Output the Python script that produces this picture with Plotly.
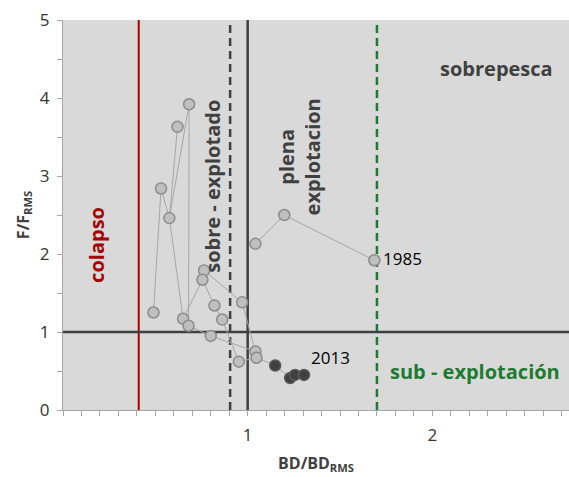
import plotly.graph_objects as go

# Data (BD/BD_RMS, F/F_RMS); None separates drawn path pieces
path_bd = [1.686, 1.198, 1.042, None,
           0.49, 0.531, 0.576, 0.62, None,
           0.683, 0.576, 0.65, 0.755, 0.82, 0.862, 0.952, 1.048, 1.149, 1.23, 1.256, 1.305, None,
           0.683, 0.68, 0.80, 1.042, 0.97, 0.764, 0.755]
path_f = [1.92, 2.50, 2.13, None,
          1.25, 2.84, 2.46, 3.63, None,
          3.92, 2.46, 1.17, 1.67, 1.34, 1.16, 0.62, 0.67, 0.57, 0.41, 0.45, 0.45, None,
          3.92, 1.08, 0.95, 0.75, 1.38, 1.79, 1.67]

pts_bd = [1.686, 1.198, 1.042, 0.49, 0.531, 0.576, 0.62, 0.683, 0.65, 0.68, 0.764, 0.755,
          0.82, 0.862, 0.80, 0.97, 1.042, 1.048, 0.952]
pts_f = [1.92, 2.50, 2.13, 1.25, 2.84, 2.46, 3.63, 3.92, 1.17, 1.08, 1.79, 1.67,
         1.34, 1.16, 0.95, 1.38, 0.75, 0.67, 0.62]

recent_bd = [1.149, 1.23, 1.256, 1.305]
recent_f = [0.57, 0.41, 0.45, 0.45]

ref_colapso = 0.41
ref_sobre = 0.905
ref_rms = 1.0
ref_sub = 1.70
ref_f = 1.0

xticks = [1, 2]
yticks = [0, 1, 2, 3, 4, 5]

FONT = "Open Sans"
DARK = "#404040"

fig = go.Figure()
fig.add_trace(go.Scatter(x=path_bd, y=path_f, mode="lines",
                         line=dict(color="#a6a6a6", width=1), hoverinfo="skip",
                         showlegend=False, connectgaps=False))
fig.add_trace(go.Scatter(x=pts_bd, y=pts_f, mode="markers",
                         marker=dict(size=11, color="#bfbfbf", line=dict(color="#8c8c8c", width=1.5)),
                         showlegend=False))
fig.add_trace(go.Scatter(x=recent_bd, y=recent_f, mode="markers",
                         marker=dict(size=11, color="#404040", line=dict(color="#595959", width=1.5)),
                         showlegend=False))

fig.add_vline(x=ref_colapso, line=dict(color="#a50000", width=2), layer="below")
fig.add_vline(x=ref_sobre, line=dict(color=DARK, width=2.5, dash="8px,5px"), layer="below")
fig.add_vline(x=ref_rms, line=dict(color=DARK, width=2.5), layer="below")
fig.add_vline(x=ref_sub, line=dict(color="#1e7a32", width=2.5, dash="8px,5px"), layer="below")
fig.add_hline(y=ref_f, line=dict(color=DARK, width=2.5), layer="below")

def lab(text, x, y, color, size=20, angle=0, bold=True, xanchor="center"):
    t = f"<b>{text}</b>" if bold else text
    fig.add_annotation(x=x, y=y, text=t, showarrow=False, textangle=angle,
                       font=dict(family=FONT, size=size, color=color), xanchor=xanchor)

lab("colapso", 0.18, 2.12, "#a50000", angle=-90)
lab("sobre - explotado", 0.81, 2.87, DARK, angle=-90)
lab("plena<br>explotacion", 1.283, 3.25, DARK, angle=-90)
lab("sobrepesca", 2.35, 4.38, DARK)
lab("sub - explotación", 2.23, 0.5, "#1e7a32")
lab("1985", 1.722, 1.94, "#000000", size=17, bold=False, xanchor="left")
lab("2013", 1.33, 0.67, "#000000", size=17, bold=False, xanchor="left")

fig.update_layout(
    width=569, height=477,
    margin=dict(l=63, r=0, t=20, b=67, autoexpand=False),
    paper_bgcolor="white", plot_bgcolor="#d9d9d9",
    font=dict(family=FONT, size=16, color="#333333"),
    xaxis=dict(range=[0, 2.74], tickvals=xticks, ticks="outside", ticklen=5,
               tickcolor="#a6a6a6", showline=True, linecolor="#a6a6a6", linewidth=1,
               showgrid=False, zeroline=False, automargin=False,
               tickfont=dict(size=17), ticklabelstandoff=5,
               minor=dict(tick0=0, dtick=0.1, ticks="outside", ticklen=5, tickcolor="#a6a6a6"),
               title=dict(text="<b>BD/BD<sub>RMS</sub></b>", font=dict(size=16, color="#404040"), standoff=12)),
    yaxis=dict(range=[0, 5], tickvals=yticks, ticks="outside", ticklen=5,
               tickcolor="#a6a6a6", showline=True, linecolor="#a6a6a6", linewidth=1,
               showgrid=False, zeroline=False, automargin=False,
               tickfont=dict(size=17), ticklabelstandoff=4,
               minor=dict(dtick=0.5, ticks="outside", ticklen=5, tickcolor="#a6a6a6"),
               title=dict(text="<b>F/F<sub>RMS</sub></b>", font=dict(size=16, color="#404040"), standoff=6)),
)

fig.write_html("out.html", config={"displayModeBar": False},
               post_script="document.body.style.margin='0px';document.body.style.overflow='hidden';")
